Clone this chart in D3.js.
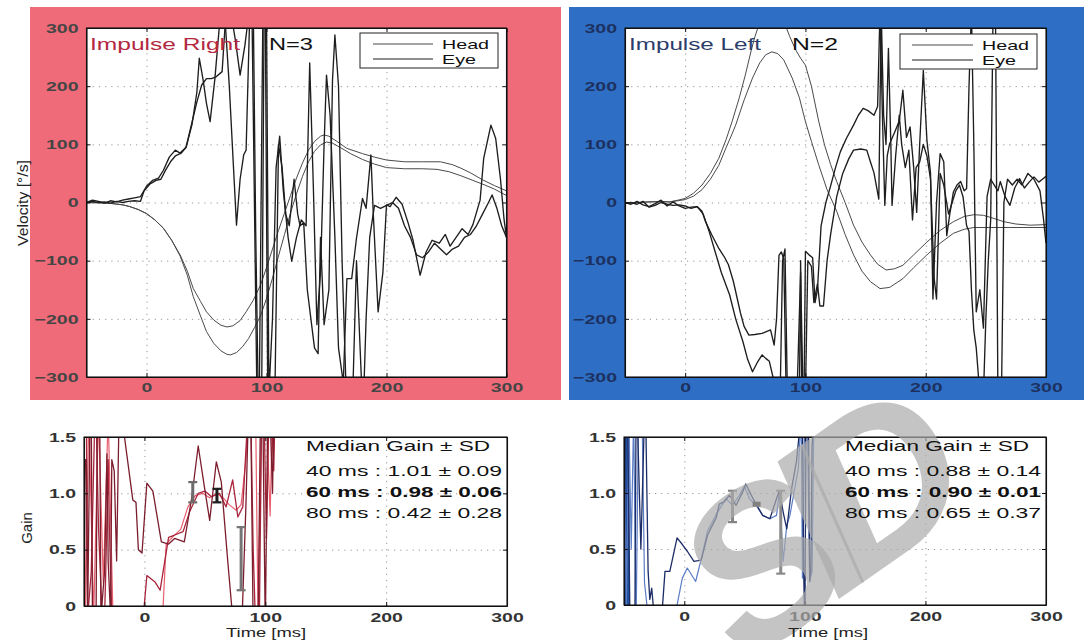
<!DOCTYPE html>
<html><head><meta charset="utf-8">
<script src="https://cdn.jsdelivr.net/npm/d3@7"></script>
<style>
body{margin:0;background:#fff}
svg{display:block}
text{font-family:"Liberation Sans",Arial,Helvetica,sans-serif}
</style>
</head><body>
<svg id="c" width="1091" height="640"></svg>
<script>
// ---------------- DATA ----------------
const timeDomain = [-50, 300];
const timeTicks = [0, 100, 200, 300];
const velTicks = [-300, -200, -100, 0, 100, 200, 300];
const velGrid = [-200, -100, 0, 100, 200];
const gainTicks = [0, 0.5, 1.0, 1.5];
const gainTickLabels = ["0", "0.5", "1.0", "1.5"];
const gainGrid = [0.5, 1.0];
const gridTimes = [0, 100, 200];

// Impulse Right: head velocity (two averaged traces)
const headRightA = [[-50,0],[-40,-0.5],[-30,-1.5],[-20,-4],[-14,-7],[-7,-12],[0,-19],[7,-30],[14,-44],[21,-65],[28,-90],[34,-118],[39,-148],[45,-170],[50,-188],[56,-202],[62,-211],[67,-214],[72,-212],[78,-203],[83,-188],[89,-168],[95,-142],[100,-112],[105,-80],[110,-48],[115,-18],[120,12],[125,42],[130,68],[135,90],[140,105],[145,114],[148,116],[152,114],[158,106],[167,93],[180,84],[190,78],[200,73],[215,70],[230,70],[245,70],[255,65],[262,59],[270,51],[280,39],[290,29],[300,20]];
const headRightB = [[-50,0],[-40,-0.5],[-30,-1.5],[-20,-4],[-14,-7],[-7,-12],[0,-19],[7,-30],[14,-44],[21,-65],[28,-92],[34,-125],[39,-162],[45,-195],[50,-222],[56,-242],[62,-255],[67,-261],[70,-262],[75,-258],[80,-248],[85,-234],[90,-215],[95,-195],[100,-165],[105,-130],[110,-92],[115,-55],[120,-18],[125,15],[130,45],[135,70],[140,88],[145,99],[150,104],[155,102],[162,94],[170,84],[180,74],[190,66],[200,60],[215,58],[230,58],[242,57],[252,53],[262,46],[272,38],[282,30],[290,23],[300,12]];
// Impulse Right: eye velocity (noisy traces)
const eyeRightA = [[-50,0],[-45,4],[-40,2],[-35,-1],[-30,3],[-25,1],[-20,4],[-15,6],[-10,8],[-5,10],[0,28],[5,38],[10,42],[14,55],[19,78],[24,90],[28,85],[33,95],[38,135],[42,190],[44,248],[47,213],[50,170],[53,139],[57,213],[61,310],[65,330],[69,200],[72,80],[75,-39],[78,40],[81,82],[83,90],[86,320],[89,330],[91,-50],[93,-320],[96,-330],[98,330],[100,330],[102,-330],[105,-200],[108,60],[111,114],[114,20],[118,-60],[121,-101],[125,-60],[129,-30],[133,-40],[136,240],[139,30],[142,-210],[145,-120],[148,100],[150,219],[153,150],[157,-60],[160,-250],[164,-310],[167,-131],[171,-131],[175,-61],[180,7],[183,-10],[187,82],[189,-20],[193,-188],[197,-120],[200,-4],[203,-7],[208,9],[213,-3],[218,-35],[222,-64],[228,-125],[233,-85],[238,-65],[244,-70],[249,-55],[253,-75],[258,-60],[263,-45],[268,-55],[272,-38],[278,4],[281,76],[287,133],[291,110],[295,40],[298,-30],[300,-60]];
const eyeRightB = [[-50,0],[-45,2],[-40,0],[-35,1],[-30,-1],[-25,2],[-20,0],[-15,2],[-10,3],[-5,2],[-2,20],[3,32],[8,38],[12,40],[16,56],[20,70],[24,80],[29,85],[33,95],[37,130],[42,173],[46,202],[50,213],[54,213],[58,216],[63,225],[66,320],[70,330],[74,280],[78,219],[82,270],[85,320],[88,310],[92,-330],[94,-330],[97,330],[99,330],[101,-320],[104,-330],[107,-330],[110,100],[113,60],[116,-20],[119,-40],[123,40],[126,-20],[128,-40],[131,-35],[134,-150],[137,-200],[140,-250],[143,-260],[145,-60],[148,-210],[152,-150],[155,210],[157,288],[160,200],[163,-100],[166,-300],[169,-330],[172,-320],[175,-100],[179,-300],[181,-330],[183,-200],[186,-60],[190,-5],[195,-10],[200,-5],[205,0],[210,-10],[215,-40],[220,-60],[225,-90],[230,-95],[235,-85],[240,-70],[245,-80],[250,-90],[255,-80],[260,-75],[265,-60],[270,-55],[275,-40],[280,-20],[285,0],[288,13],[292,-10],[296,-40],[300,-60]];

// Impulse Left: head velocity
const headLeftA = [[-50,0],[-40,0],[-30,1],[-20,2],[-13,1],[-6,4],[0,7],[7,16],[14,30],[21,50],[28,76],[34,108],[39,139],[45,180],[50,219],[55,262],[58,285],[62,310],[67,330],[72,338],[77,332],[82,312],[87,285],[92,262],[96,248],[100,236],[105,200],[111,140],[116,98],[121,65],[126,36],[133,0],[140,-39],[147,-68],[154,-90],[160,-106],[167,-116],[174,-114],[181,-108],[190,-90],[201,-68],[212,-48],[223,-33],[232,-24],[240,-21],[248,-22],[256,-27],[265,-33],[275,-37],[287,-39],[300,-38]];
const headLeftB = [[-50,0],[-40,0],[-30,1],[-20,1],[-13,1],[-6,3],[0,5],[7,11],[14,22],[21,40],[28,64],[34,94],[39,118],[42,133],[49,176],[56,214],[62,240],[67,254],[72,259],[77,256],[82,245],[89,214],[95,180],[100,139],[105,105],[111,65],[118,22],[126,-15],[133,-55],[140,-90],[147,-118],[154,-136],[162,-148],[170,-146],[181,-131],[190,-112],[201,-90],[212,-70],[223,-53],[232,-46],[240,-43],[255,-43],[270,-43],[285,-43],[300,-43]];
// Impulse Left: eye velocity
const eyeLeftA = [[-50,0],[-45,-3],[-40,2],[-35,-4],[-30,-7],[-25,-2],[-20,4],[-15,-6],[-10,1],[-5,-6],[0,-10],[5,-8],[10,-7],[14,-15],[17,-33],[22,-55],[28,-79],[33,-95],[36,-107],[40,-135],[42,-153],[46,-190],[49,-213],[53,-228],[58,-227],[64,-225],[71,-219],[74,-245],[76,-200],[78,-91],[80,-85],[82,-97],[84,-330],[88,-330],[92,-330],[95,-330],[96,-100],[97,-330],[99,-300],[100,-84],[103,-90],[106,-95],[108,-172],[110,-150],[113,-40],[117,0],[121,29],[125,60],[129,87],[134,110],[140,133],[144,150],[148,162],[152,158],[157,150],[160,165],[162,330],[164,150],[166,-5],[168,80],[170,101],[174,120],[178,140],[181,193],[184,112],[187,130],[190,60],[192.5,-17],[195,101],[198,227],[201,107],[204,50],[206,-166],[209,0],[212,84],[215,70],[217.5,-57],[220,-20],[223,18],[226,30],[229,36],[232,20],[234,24],[236,200],[238,330],[240,100],[242,-188],[245,-150],[248,-216],[251,10],[254,40],[257,30],[260,20],[262,36],[266,10],[270,-5],[274,25],[278,41],[282,25],[286,35],[290,44],[294,35],[297,40],[300,45]];
const eyeLeftB = [[-50,-2],[-45,0],[-40,-3],[-35,2],[-30,-8],[-25,-5],[-20,0],[-15,-3],[-10,-5],[-5,-4],[0,-6],[5,-10],[10,-7],[15,-20],[20,-50],[25,-85],[30,-120],[37,-159],[42,-200],[48,-239],[52,-270],[56,-291],[60,-275],[64,-262],[67,-268],[70,-273],[73,-300],[75,-330],[79,-330],[81,-100],[83,-80],[85,-330],[90,-330],[93,-330],[96,-120],[98,-330],[100,-330],[102,-100],[105,-110],[107,-172],[110,-140],[112,-178],[115,-178],[118,-100],[121,-54],[126,10],[131,50],[136,75],[140,90],[146,92],[151,90],[154,70],[157,51],[161,6],[163,330],[165,150],[167,100],[169,265],[171,100],[172,-5],[175,80],[178,150],[180,100],[183,60],[186,90],[189,-30],[192,60],[195,70],[198,100],[201,80],[204,40],[207,-130],[209,-166],[212,50],[215,30],[219,-20],[222,0],[225,20],[228,30],[231,10],[234,-40],[236,-50],[238,-150],[240,-220],[242,-250],[245,-330],[248,-330],[250,-200],[252,-100],[254,-30],[256,330],[258,330],[260,-330],[263,-330],[265,0],[268,40],[272,30],[276,40],[280,30],[285,50],[290,40],[295,20],[298,-30],[300,-70]];

// Gain traces, Impulse Right
const gainRightA = [[-50,0],[-49,1.3],[-48,1.3],[-47,-0.1],[-45,1.7],[-44,1.7],[-43,-0.1],[-40,-0.1],[-39,1.7],[-37,1.7],[-36,-0.1],[-33,0.3],[-31,1.35],[-30,0.4],[-28,-0.1],[-27,1.3],[-25,1.2],[-23,0.4],[-21,1.7],[-18,1.7],[-16.5,1.5],[-9.6,0.94],[-7,0.92],[-5,0.5],[-2,0.47],[2,1.09],[7,1.02],[14,0.57],[20,0.55],[25,0.6],[33,0.57],[39,0.95],[44.5,1.42],[50,1.03],[54,0.76],[59.5,1.28],[63.6,1.1],[69,0.39],[73,-0.1],[78,-0.3],[81,-0.05],[84,0.9],[86,1.7],[88,1.7],[90,-0.2],[94,-0.2],[96,1.7],[98,1.7],[100,-0.2],[102,1.7],[104,1.7],[106,1.0],[107,1.7]];
const gainRightB = [[-50,1.7],[-48,1.7],[-47,-0.1],[-44,0.3],[-41,1.7],[-40,1.7],[-38,0.7],[-35,-0.1],[-33,-0.1],[-32,0.3],[-30,1.3],[-29,0.7],[-27,-0.1],[-25,-0.2],[-1,-0.1],[2,0.27],[9,0.21],[13,0.14],[20,0.61],[25,0.63],[32,0.66],[37.5,0.84],[44.5,1.0],[50,1.02],[55.5,0.97],[62,1.0],[67.6,0.88],[73,1.12],[77.3,0.79],[81.4,0.88],[85.6,1.7],[88,1.7],[90,0.5],[92,-0.2],[95,-0.2],[97,1.7],[99,1.7],[101,0.6],[103,1.7],[105,1.7],[107,1.2],[108,1.7]];
const gainRightC = [[-50,1.7],[-49,-0.1],[-46,1.7],[-42,-0.1],[-38,1.7],[-34,0.2],[-30,1.7],[-26,-0.1],[15,-0.1],[18,0.55],[24,0.62],[30,0.68],[36,0.88],[42,0.98],[48,1.0],[54,0.96],[60,1.0],[66,0.95],[70,0.9],[76,0.85],[80,0.9],[84,1.3],[86,1.7],[92,1.7],[94,-0.1],[97,1.7],[101,1.7],[104,0.8],[106,1.7]];
// Gain traces, Impulse Left
const gainLeftA = [[-50,-0.2],[-49,1.7],[-47,1.7],[-45,-0.2],[-41,-0.2],[-40,1.7],[-39,1.7],[-36,0.5],[-33,1.7],[-32,1.7],[-30,0.3],[-28.6,0.05],[-27,0.15],[-25,-0.1],[-18,0],[-16,0.3],[-12,0.3],[-6,0.6],[-1.6,0.54],[2.5,0.48],[8,0.39],[14,0.4],[19.5,0.63],[26.5,0.78],[29,0.9],[33,0.92],[37.4,0.98],[43,0.89],[48.5,1.01],[51,1.08],[57,0.95],[65,0.8],[71,0.77],[76.5,0.95],[79,1.02],[82,0.83],[85,0.68],[89,1.04],[93,1.28],[96,1.6],[98,1.7],[99,0.3],[100,-0.2],[101,1.7],[103,1.7],[104,0.21],[105,0.3],[106,1.42],[108,1.7]];
const gainLeftB = [[-50,1.7],[-48,0],[-46,1.7],[-44,0.5],[-42,1.7],[-40,-0.2],[-38,1.7],[-35,1.7],[-33,0.2],[-31,0],[-29,-0.2],[-6,0],[-1.6,0.24],[2.5,0.33],[9.4,0.21],[13.6,0.39],[19.3,0.66],[26,0.8],[34.6,0.95],[40,0.89],[45.7,0.98],[49.8,1.06],[54,0.95],[59.6,0.89],[65,0.8],[71,0.77],[76.5,0.8],[79,1.02],[82,0.39],[85,0.71],[87.6,0.8],[94.6,1.22],[97,1.7],[98,0.24],[100,1.7],[102,1.7],[104,0.21],[106,0.3],[107.5,1.7]];
const gainLeftBand = [[-50,1.7],[-49.7,-0.2],[-49.4,1.7],[-49.1,-0.2],[-48.8,1.7],[-48.5,-0.2],[-48.2,1.7],[-47.9,-0.2],[-47.6,1.7],[-47.3,-0.2],[-47,1.7],[-46.7,-0.2],[-46.4,1.7],[-46.1,-0.2]];

// Median gain ± SD at 40/60/80 ms
const gainTimes = [40, 60, 80];
const gainMedRight = [1.01, 0.98, 0.42];
const gainSdRight = [0.09, 0.06, 0.28];
const gainMedLeft = [0.88, 0.90, 0.65];
const gainSdLeft = [0.14, 0.01, 0.37];

// ---------------- DRAW ----------------
const svg = d3.select("#c");
const SX = 1.5; // horizontal text stretch of the scanned figure

svg.append("rect").attr("x",30).attr("y",7).attr("width",531).attr("height",393).attr("fill","#ef6b79");
svg.append("rect").attr("x",569).attr("y",7).attr("width",515).attr("height",393).attr("fill","#2e6fc5");

function stretch(sel, sx){
  sel.each(function(){
    const t = d3.select(this);
    const x = +t.attr("x") || 0;
    t.attr("x", x/sx).attr("transform", `scale(${sx},1)`);
  });
}

function panel(cfg){
  const x = d3.scaleLinear().domain(timeDomain).range([cfg.x0, cfg.x1]);
  const y = d3.scaleLinear().domain(cfg.yDomain).range([cfg.y1, cfg.y0]);
  const w = cfg.x1 - cfg.x0, h = cfg.y1 - cfg.y0;
  const g = svg.append("g");
  g.append("rect").attr("x",cfg.x0).attr("y",cfg.y0).attr("width",w).attr("height",h).attr("fill","#fff");
  const gx = g.append("g").attr("transform",`translate(0,${cfg.y1})`)
    .call(d3.axisBottom(x).tickValues(gridTimes).tickSize(-h).tickFormat(""));
  const gy = g.append("g").attr("transform",`translate(${cfg.x0},0)`)
    .call(d3.axisLeft(y).tickValues(cfg.yGrid).tickSize(-w).tickFormat(""));
  [gx, gy].forEach(s => { s.select(".domain").remove(); s.selectAll("line").attr("stroke","#8a8a8a").attr("stroke-width",0.9).attr("stroke-dasharray","1.2,5"); });
  const id = "clip" + cfg.id;
  svg.append("clipPath").attr("id", id).append("rect").attr("x",cfg.x0).attr("y",cfg.y0).attr("width",w).attr("height",h);
  const lines = g.append("g").attr("clip-path",`url(#${id})`);
  const line = d3.line().x(d => x(d[0])).y(d => y(d[1]));
  cfg.series.forEach(s => {
    lines.append("path").datum(s.data).attr("d", line).attr("fill","none")
      .attr("stroke", s.color).attr("stroke-width", s.width).attr("stroke-linejoin","round");
  });
  const axL = g.append("g").attr("transform",`translate(${cfg.x0},0)`)
    .call(d3.axisLeft(y).tickValues(cfg.yTicks).tickSizeInner(-4).tickSizeOuter(0).tickPadding(8).tickFormat(cfg.yFormat));
  const axB = g.append("g").attr("transform",`translate(0,${cfg.y1})`)
    .call(d3.axisBottom(x).tickValues(timeTicks).tickSizeInner(-4).tickSizeOuter(0).tickPadding(cfg.xPad));
  const axT = g.append("g").attr("transform",`translate(0,${cfg.y0})`)
    .call(d3.axisTop(x).tickValues(timeTicks).tickSizeInner(-4).tickSizeOuter(0).tickFormat(""));
  const axR = g.append("g").attr("transform",`translate(${cfg.x1},0)`)
    .call(d3.axisRight(y).tickValues(cfg.yTicks).tickSizeInner(-4).tickSizeOuter(0).tickFormat(""));
  [axL, axB, axT, axR].forEach(a => {
    a.select(".domain").attr("stroke","#111").attr("stroke-width",1.1);
    a.selectAll(".tick line").attr("stroke","#111");
    a.selectAll("text").attr("font-size",13).attr("font-weight","bold").attr("fill",cfg.tickColor)
      .attr("font-family",'"Liberation Sans",Arial,sans-serif');
    stretch(a.selectAll("text"), SX);
  });
  g.append("rect").attr("x",cfg.x0).attr("y",cfg.y0).attr("width",w).attr("height",h).attr("fill","none").attr("stroke","#111").attr("stroke-width",1.1);
  return {g, x, y};
}

const velFmt = d => d < 0 ? "\u2212" + Math.abs(d) : String(d);
const gainFmt = d => gainTickLabels[gainTicks.indexOf(d)];

const headStyle = {color:"#4a4a4a", width:1.0};
const eyeStyle = {color:"#1e1e1e", width:1.35};

const pTL = panel({id:"tl", x0:86.5, x1:506.5, y0:28, y1:377, yDomain:[-300,300], yTicks:velTicks, yGrid:velGrid, yFormat:velFmt, xPad:6, tickColor:"#454545",
  series:[
    {data:headRightA, ...headStyle},{data:headRightB, ...headStyle},
    {data:eyeRightB, ...eyeStyle},{data:eyeRightA, ...eyeStyle}
  ]});
const pTR = panel({id:"tr", x0:625, x1:1046, y0:28, y1:377, yDomain:[-300,300], yTicks:velTicks, yGrid:velGrid, yFormat:velFmt, xPad:6, tickColor:"#1d3160",
  series:[
    {data:headLeftA, ...headStyle},{data:headLeftB, ...headStyle},
    {data:eyeLeftB, ...eyeStyle},{data:eyeLeftA, ...eyeStyle}
  ]});
const pBL = panel({id:"bl", x0:84, x1:507, y0:437, y1:606, yDomain:[0,1.5], yTicks:gainTicks, yGrid:gainGrid, yFormat:gainFmt, xPad:7, tickColor:"#333",
  series:[
    {data:gainRightC, color:"#e8606f", width:1.2},
    {data:gainRightB, color:"#a8253c", width:1.3},
    {data:gainRightA, color:"#7c1d2d", width:1.3}
  ]});
const pBR = panel({id:"br", x0:624, x1:1046, y0:437, y1:605, yDomain:[0,1.5], yTicks:gainTicks, yGrid:gainGrid, yFormat:gainFmt, xPad:7, tickColor:"#333",
  series:[
    {data:gainLeftBand, color:"#1f4f9e", width:2.2},
    {data:gainLeftB, color:"#5a7cc4", width:1.2},
    {data:gainLeftA, color:"#1c2c66", width:1.3}
  ]});

function errorBars(p, med, sd, colors){
  const eg = p.g.append("g");
  gainTimes.forEach((t, i) => {
    const cx = p.x(t), top = p.y(med[i] + sd[i]), bot = p.y(med[i] - sd[i]);
    if (sd[i] < 0.03) {
      eg.append("rect").attr("x", cx-4).attr("y", p.y(med[i])-2.5).attr("width",8).attr("height",5).attr("fill",colors[i]);
      return;
    }
    eg.append("line").attr("x1",cx).attr("x2",cx).attr("y1",top).attr("y2",bot).attr("stroke",colors[i]).attr("stroke-width",3);
    [top, bot].forEach(yy => eg.append("line").attr("x1",cx-4.5).attr("x2",cx+4.5).attr("y1",yy).attr("y2",yy).attr("stroke",colors[i]).attr("stroke-width",2.2));
  });
}
errorBars(pBL, gainMedRight, gainSdRight, ["#6c6c6c","#1e1e1e","#757575"]);
errorBars(pBR, gainMedLeft, gainSdLeft, ["#858585","#1e1e1e","#8a8a8a"]);

function txt(x, y, s, opt){
  const t = svg.append("text").attr("x",x).attr("y",y).text(s)
    .attr("font-size", opt.size || 13).attr("fill", opt.fill || "#111")
    .attr("font-weight", opt.weight || "normal");
  if (opt.len) t.attr("textLength", opt.len).attr("lengthAdjust","spacingAndGlyphs");
  if (opt.anchor) t.attr("text-anchor", opt.anchor);
  if (opt.rotate) t.attr("transform", `rotate(${opt.rotate},${x},${y})`);
  return t;
}

// Watermark (drawn under the texts)
svg.append("text").attr("x",0).attr("y",0).text("SID")
  .attr("font-family",'"DejaVu Serif","Liberation Serif",serif').attr("font-style","italic").attr("font-weight","bold")
  .attr("font-size",215).attr("letter-spacing",-32).attr("text-anchor","middle").attr("fill","#ababab").attr("fill-opacity",0.7)
  .attr("transform","translate(852,590) rotate(-35)");

txt(90, 50, "Impulse Right", {size:16, fill:"#b3283f", len:150});
txt(269, 50, "N=3", {size:16, fill:"#111", len:44});
txt(629, 50, "Impulse Left", {size:16, fill:"#2c3d6c", len:132});
txt(792, 50, "N=2", {size:16, fill:"#111", len:46});

function legend(bx, by, bw, bh, lx0, lx1, tx){
  svg.append("rect").attr("x",bx).attr("y",by).attr("width",bw).attr("height",bh).attr("fill","#fff").attr("stroke","#222").attr("stroke-width",1);
  [["Head", by+11, 47], ["Eye", by+26, 34]].forEach(([s, yy, L], i) => {
    svg.append("line").attr("x1",lx0).attr("x2",lx1).attr("y1",yy).attr("y2",yy).attr("stroke", i ? "#1e1e1e" : "#4a4a4a").attr("stroke-width",1.1);
    txt(tx, yy+4.5, s, {size:13, len:L});
  });
}
legend(360, 33, 138, 35, 373, 433, 442);
legend(900, 34, 137, 35, 912, 973, 982);

txt(28, 203, "Velocity [\u00b0/s]", {size:14, anchor:"middle", rotate:-90, len:86, fill:"#222"});
txt(32, 528, "Gain", {size:15, anchor:"middle", rotate:-90, fill:"#222"});
txt(266, 637, "Time [ms]", {size:13, anchor:"middle", len:80, fill:"#222"});
txt(828, 637, "Time [ms]", {size:13, anchor:"middle", len:80, fill:"#222"});

function annot(x0, med, sd){
  txt(x0, 451, "Median Gain \u00b1 SD", {size:14, len:184});
  const ys = [476, 497, 518];
  gainTimes.forEach((t, i) => {
    txt(x0, ys[i], `${t} ms : ${med[i].toFixed(2)} \u00b1 ${sd[i].toFixed(2)}`, {size:14, len:196, weight: i===1 ? "bold" : "normal"});
  });
}
annot(306, gainMedRight, gainSdRight);
annot(845, gainMedLeft, gainSdLeft);
</script>
</body></html>
